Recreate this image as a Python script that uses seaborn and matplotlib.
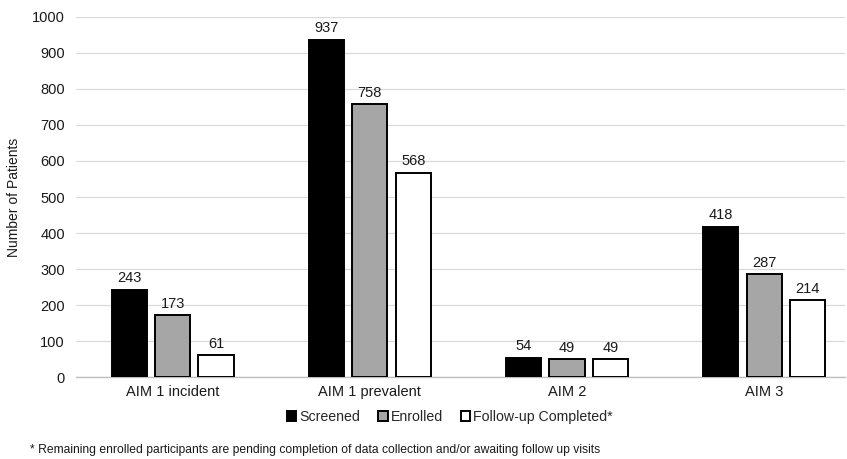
import matplotlib
matplotlib.use("Agg")
import matplotlib.pyplot as plt
import seaborn as sns
import pandas as pd

categories = ["AIM 1 incident", "AIM 1 prevalent", "AIM 2", "AIM 3"]
series_names = ["Screened", "Enrolled", "Follow-up Completed*"]
screened = [243, 937, 54, 418]
enrolled = [173, 758, 49, 287]
followup = [61, 568, 49, 214]
colors = ["#000000", "#A6A6A6", "#FFFFFF"]

rows = []
for name, vals in zip(series_names, [screened, enrolled, followup]):
    for cat, v in zip(categories, vals):
        rows.append({"Aim": cat, "Status": name, "Patients": v})
df = pd.DataFrame(rows)

sns.set_theme(style="white")
plt.rcParams["font.family"] = ["Liberation Sans", "DejaVu Sans"]

fig = plt.figure(figsize=(8.47, 4.59), dpi=100)
ax = fig.add_axes([0.0897, 0.1786, 0.908, 0.7844])

sns.barplot(data=df, x="Aim", y="Patients", hue="Status", order=categories,
            hue_order=series_names, palette=colors, width=0.66, gap=0.19,
            edgecolor="black", linewidth=1.4, ax=ax, legend=True, zorder=3)

for container in ax.containers:
    ax.bar_label(container, fmt="%d", padding=3, fontsize=10.5, color="#1a1a1a")

ax.set_ylim(0, 1000)
ax.set_yticks(range(0, 1001, 100))
ax.set_xlim(-0.49, 3.41)
ax.yaxis.grid(True, color="#D9D9D9", linewidth=0.9, zorder=0)
ax.set_axisbelow(True)
for s in ["top", "right", "left"]:
    ax.spines[s].set_visible(False)
ax.spines["bottom"].set_color("#BFBFBF")
ax.spines["bottom"].set_linewidth(1.0)
ax.tick_params(axis="both", length=0, labelsize=10.5, colors="#1a1a1a", pad=8)
ax.tick_params(axis="x", pad=6)
ax.set_xlabel("")
ax.set_ylabel("Number of Patients", fontsize=10, color="#1a1a1a", labelpad=8)

handles, labels = ax.get_legend_handles_labels()
ax.legend(handles, labels, loc="center", bbox_to_anchor=(450 / 847, 1 - 417 / 459),
          bbox_transform=fig.transFigure, ncol=3, frameon=False, fontsize=10.2,
          handlelength=0.65, handleheight=0.65, handletextpad=0.2, columnspacing=1.3)

fig.text(30 / 847, 1 - 450 / 459,
         "* Remaining enrolled participants are pending completion of data collection and/or awaiting follow up visits",
         fontsize=8.75, color="#1a1a1a", va="center", ha="left")

fig.savefig("out.png", dpi=100)
